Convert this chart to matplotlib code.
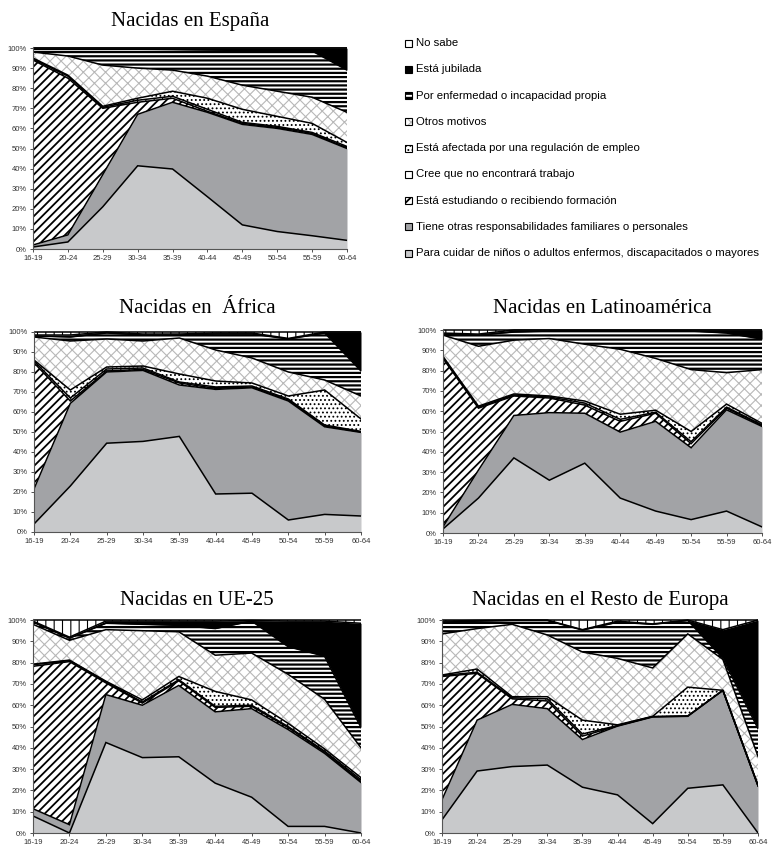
import matplotlib
matplotlib.use("Agg")
import matplotlib.pyplot as plt
import numpy as np
from matplotlib.patches import Rectangle

plt.rcParams["font.family"] = ["Liberation Sans", "DejaVu Sans"]

edades = ["16-19", "20-24", "25-29", "30-34", "35-39",
          "40-44", "45-49", "50-54", "55-59", "60-64"]

# de abajo arriba, igual que el apilado
motivos = [
    "Para cuidar de niños o adultos enfermos, discapacitados o mayores",
    "Tiene otras responsabilidades familiares o personales",
    "Está estudiando o recibiendo formación",
    "Cree que no encontrará trabajo",
    "Está afectada por una regulación de empleo",
    "Otros motivos",
    "Por enfermedad o incapacidad propia",
    "Está jubilada",
    "No sabe",
]

# porcentajes por motivo (filas en el orden de 'motivos')
espana = [
    [1.0, 3.5, 21.0, 41.4, 39.8, 26.0, 12.0, 8.7, 6.6, 4.3],
    [1.0, 3.5, 16.0, 25.6, 33.2, 42.0, 50.0, 51.3, 50.4, 45.7],
    [92.0, 78.0, 33.0, 6.0, 2.0, 0.5, 0.5, 0.5, 0.5, 0.3],
    [0.5, 1.0, 0.5, 1.0, 1.0, 1.0, 0.5, 0.5, 0.5, 0.7],
    [0.5, 0.5, 0.5, 1.0, 2.5, 5.5, 6.5, 5.0, 4.5, 2.0],
    [3.0, 9.5, 20.5, 15.0, 10.5, 11.0, 12.0, 12.5, 13.0, 15.0],
    [1.3, 3.3, 7.8, 9.3, 10.2, 13.0, 17.3, 20.0, 23.0, 21.0],
    [0.6, 0.6, 0.6, 0.6, 0.7, 0.9, 1.1, 1.4, 1.4, 10.9],
    [0.1, 0.1, 0.1, 0.1, 0.1, 0.1, 0.1, 0.1, 0.1, 0.1],
]

africa = [
    [4.0, 23.0, 44.4, 45.3, 47.8, 19.0, 19.4, 6.0, 8.8, 8.0],
    [17.5, 41.3, 35.6, 35.5, 25.7, 52.3, 52.7, 59.5, 43.8, 41.8],
    [63.1, 1.2, 0.5, 0.5, 1.0, 0.5, 0.4, 0.5, 0.4, 0.2],
    [0.9, 1.5, 1.0, 0.7, 0.5, 0.7, 0.5, 0.5, 0.5, 0.3],
    [0.5, 4.0, 1.0, 1.0, 4.0, 3.0, 1.5, 1.5, 17.5, 6.2],
    [11.5, 24.5, 14.0, 12.5, 18.0, 15.5, 12.5, 12.0, 5.0, 11.5],
    [0.5, 2.0, 3.0, 3.0, 1.5, 8.0, 12.0, 16.5, 23.5, 12.5],
    [0.5, 1.0, 0.5, 0.5, 0.5, 0.5, 0.5, 0.3, 0.5, 19.5],
    [1.5, 1.5, 0.0, 1.0, 1.0, 0.5, 0.5, 3.2, 0.0, 0.0],
]

latinoamerica = [
    [2.0, 17.2, 37.0, 26.0, 34.4, 17.2, 10.8, 6.6, 10.8, 3.0],
    [1.0, 13.8, 20.9, 33.3, 24.6, 32.5, 44.2, 35.4, 49.9, 49.5],
    [83.0, 30.5, 9.6, 7.2, 4.0, 5.3, 4.0, 2.0, 0.8, 0.5],
    [0.5, 0.5, 0.5, 0.5, 1.0, 1.0, 0.5, 1.0, 0.5, 0.3],
    [0.5, 0.5, 0.5, 0.5, 1.0, 2.5, 1.0, 5.0, 1.5, 0.7],
    [10.5, 29.5, 26.5, 28.3, 28.0, 32.0, 25.5, 30.5, 15.5, 26.5],
    [0.5, 5.5, 4.0, 3.7, 6.5, 9.0, 13.5, 19.0, 19.5, 15.0],
    [0.5, 0.5, 1.0, 0.5, 0.5, 0.5, 0.5, 0.5, 1.5, 4.5],
    [1.5, 2.0, 0.0, 0.0, 0.0, 0.0, 0.0, 0.0, 0.0, 0.0],
]

ue25 = [
    [8.0, 0.0, 42.5, 35.4, 35.8, 23.4, 16.8, 3.1, 3.1, 0.0],
    [3.4, 3.9, 22.5, 24.6, 33.5, 33.5, 41.6, 45.5, 34.3, 23.7],
    [66.9, 76.6, 5.5, 1.0, 2.2, 2.1, 1.1, 0.9, 0.6, 0.5],
    [0.7, 0.5, 0.5, 0.5, 0.5, 0.5, 0.5, 0.5, 0.5, 0.8],
    [0.3, 0.2, 0.3, 1.0, 1.5, 7.0, 2.5, 1.5, 1.0, 1.0],
    [18.7, 9.3, 24.2, 32.5, 21.0, 17.0, 22.0, 23.0, 23.3, 14.0],
    [1.0, 1.0, 3.0, 3.0, 3.0, 12.5, 15.0, 13.0, 20.2, 9.5],
    [0.5, 0.5, 1.0, 1.5, 2.0, 3.5, 0.3, 12.0, 16.5, 49.0],
    [0.5, 8.0, 0.5, 0.5, 0.5, 0.5, 0.2, 0.5, 0.5, 1.5],
]

resto_europa = [
    [6.2, 29.1, 31.2, 31.9, 21.5, 17.9, 4.4, 21.0, 22.6, 0.0],
    [9.4, 23.9, 29.2, 26.5, 22.4, 32.3, 50.1, 33.8, 44.4, 22.1],
    [57.9, 22.0, 2.6, 3.6, 1.6, 0.1, 0.1, 0.1, 0.0, 0.1],
    [0.5, 0.5, 0.5, 1.0, 1.0, 0.2, 0.1, 0.1, 0.0, 0.1],
    [0.2, 1.5, 0.5, 1.0, 6.5, 0.3, 0.1, 13.5, 0.0, 0.2],
    [19.3, 19.0, 34.0, 29.0, 32.0, 31.2, 22.7, 25.0, 14.5, 13.5],
    [5.5, 3.5, 1.8, 6.8, 10.3, 17.0, 20.5, 6.3, 0.5, 13.0],
    [0.5, 0.3, 0.2, 0.2, 0.2, 0.5, 0.2, 0.2, 13.5, 51.0],
    [0.5, 0.2, 0.0, 0.0, 4.5, 0.5, 1.8, 0.0, 4.5, 0.0],
]

# relleno, color de trama, trama, grosor de trama
estilos = [
    ("#c8c9cb", "#c8c9cb", None, 0),
    ("#a2a3a6", "#a2a3a6", None, 0),
    ("white", "black", "////", 1.3),
    ("white", "black", "++", 0.8),
    ("white", "black", "....", 0.8),
    ("white", "#b8b8b8", "xxx", 0.8),
    ("white", "black", "----", 1.6),
    ("black", "black", None, 0),
    ("white", "black", "||", 0.8),
]

W, H = 773, 850


def caja(left, top, right, bottom):
    return [left / W, 1 - bottom / H, (right - left) / W, (bottom - top) / H]


def relleno(ax, x, y0, y1, estilo):
    fc, hc, h, lw = estilo
    with plt.rc_context({"hatch.linewidth": lw or 1.0}):
        pc = ax.fill_between(x, y0, y1, facecolor=fc, edgecolor=hc,
                             hatch=h, linewidth=0)
    if h and hasattr(pc, "set_hatch_linewidth"):
        pc.set_hatch_linewidth(lw)
    return pc


def dibuja(ax, datos, titulo, y_titulo):
    x = np.arange(len(edades))
    base = np.zeros(len(edades))
    for serie, estilo in zip(datos, estilos):
        tope = base + np.array(serie)
        relleno(ax, x, base, tope, estilo)
        ax.plot(x, tope, color="black", lw=1.1, solid_joinstyle="miter")
        base = tope

    ax.set_xlim(0, len(edades) - 1)
    ax.set_ylim(0, 100.5)
    ax.set_yticks(range(0, 101, 10))
    ax.set_yticklabels(["{}%".format(v) for v in range(0, 101, 10)])
    ax.set_xticks(x)
    ax.set_xticklabels(edades)
    ax.tick_params(labelsize=5.5, length=2.5, width=0.6, pad=2, colors="#333333")
    for s in ("top", "right"):
        ax.spines[s].set_visible(False)
    for s in ("left", "bottom"):
        ax.spines[s].set_color("#555555")
        ax.spines[s].set_linewidth(0.8)

    pos = ax.get_position()
    fig.text((pos.x0 + pos.x1) / 2, 1 - y_titulo / H, titulo,
             family="Liberation Serif", fontsize=15, ha="center", va="baseline")


fig = plt.figure(figsize=(W / 100, H / 100), dpi=100)

paneles = [
    (espana, "Nacidas en España", caja(33, 47, 347, 249), 26),
    (africa, "Nacidas en  África", caja(34, 331, 361, 532), 313),
    (latinoamerica, "Nacidas en Latinoamérica", caja(443, 329, 762, 533), 313),
    (ue25, "Nacidas en UE-25", caja(33, 619, 361, 833), 605),
    (resto_europa, "Nacidas en el Resto de Europa", caja(442, 619, 758, 833), 605),
]
for datos, titulo, rect, yt in paneles:
    ax = fig.add_axes(rect)
    dibuja(ax, datos, titulo, yt)

# leyenda a la derecha del primer grafico
leg = fig.add_axes([0, 0, 1, 1])
leg.set_xlim(0, W)
leg.set_ylim(H, 0)
leg.axis("off")
for i, k in enumerate(range(len(motivos) - 1, -1, -1)):
    y = 43 + 26.25 * i
    fc, hc, h, lw = estilos[k]
    with plt.rc_context({"hatch.linewidth": lw or 1.0}):
        leg.add_patch(Rectangle((405, y - 3.5), 7, 7, facecolor=fc,
                                edgecolor=hc, hatch=h, linewidth=0))
    leg.add_patch(Rectangle((405, y - 3.5), 7, 7, fill=False,
                            edgecolor="black", linewidth=0.8))
    leg.text(416, y, motivos[k], fontsize=8.2, va="center", ha="left")

# por si la version lee el grosor de trama al dibujar
plt.rcParams["hatch.linewidth"] = 1.3
fig.savefig("out.png", dpi=100)
plt.close(fig)
